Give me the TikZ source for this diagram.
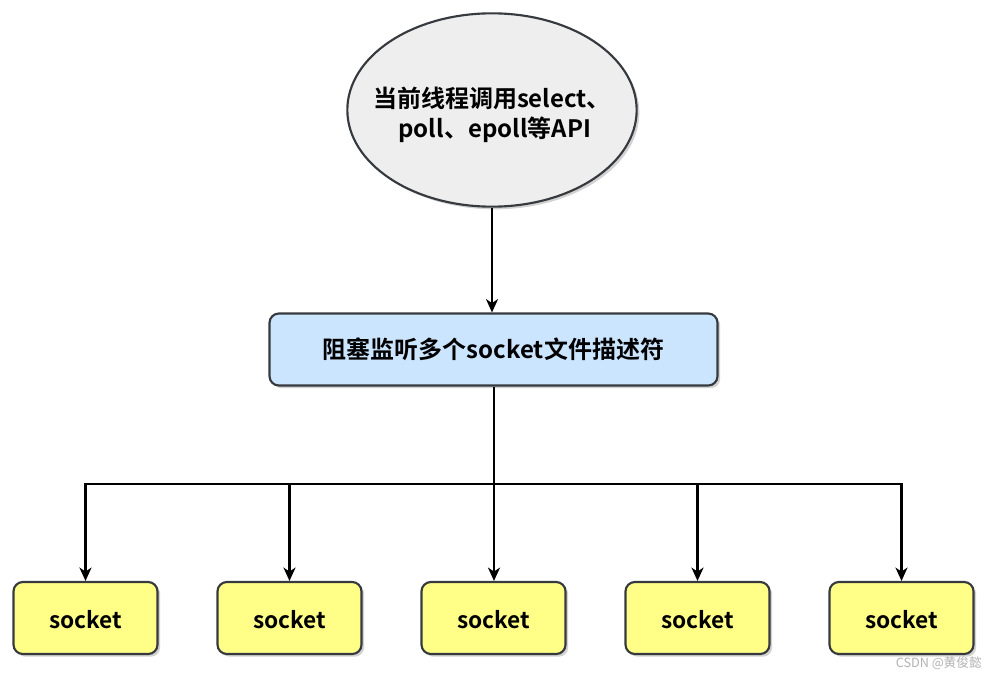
\documentclass[tikz,border=0pt]{standalone}
\usepackage{fontspec}
\setmainfont{Noto Sans CJK SC}[BoldFont={* Bold}]
\usetikzlibrary{arrows.meta,shapes.geometric,shadows}
\definecolor{edgec}{HTML}{36393D}
\definecolor{ellfill}{HTML}{EEEEEE}
\definecolor{bluefill}{HTML}{CCE5FF}
\definecolor{yelfill}{HTML}{FFFF88}
\tikzset{
  px/.style={x=0.75pt,y=-0.75pt},
  shad/.style={drop shadow={shadow xshift=2pt,shadow yshift=-2pt,opacity=0.25,fill=black!70}},
  ellnode/.style={ellipse,draw=edgec,line width=1.6pt,fill=ellfill,shad,minimum width=217pt,minimum height=145pt,inner sep=0pt},
  elltext/.style={inner sep=0pt,font=\bfseries\fontsize{18}{22}\selectfont,align=center},
  bluebox/.style={rectangle,rounded corners=7pt,draw=edgec,line width=1.6pt,fill=bluefill,shad,minimum width=336pt,minimum height=54pt,inner sep=0pt,font=\bfseries\fontsize{18}{22}\selectfont},
  sockbox/.style={rectangle,rounded corners=7pt,draw=edgec,line width=1.6pt,fill=yelfill,shad,minimum width=108pt,minimum height=54pt,inner sep=0pt,text height=16pt,text depth=0pt,font=\bfseries\fontsize{17}{20}\selectfont},
  conn/.style={line width=1.9pt,black},
  arr/.style={conn,-{Stealth[length=10pt,width=9pt,inset=3pt]}},
  wm/.style={text=black!30,font=\fontsize{9.5}{11}\selectfont,inner sep=0pt}
}
\begin{document}
\begin{tikzpicture}[px]
\useasboundingbox (0,0) rectangle (998,681);
\node[ellnode] (top) at (492,110) {};
\node[elltext] (toptext) at (492,115) {当前线程调用select、\\\ poll、epoll等API};
\node[bluebox] (mid) at (493.5,349.5) {阻塞监听多个socket文件描述符};
\node[sockbox] (s1) at (85.5,618) {socket};
\node[sockbox] (s2) at (289.5,618) {socket};
\node[sockbox] (s3) at (493.5,618) {socket};
\node[sockbox] (s4) at (697.5,618) {socket};
\node[sockbox] (s5) at (901.5,618) {socket};
\coordinate (j) at (494,484);
\draw[arr] (top.south) -- (top.south |- mid.north);
\draw[arr] (mid.south -| j) -- (s3.north -| j);
\foreach \s in {s1,s2,s4,s5}{
  \draw[arr] (j) -| (\s.north);
}
\node[wm,anchor=east] (wmk) at (982,663) {CSDN @黄俊懿};
\end{tikzpicture}
\end{document}
